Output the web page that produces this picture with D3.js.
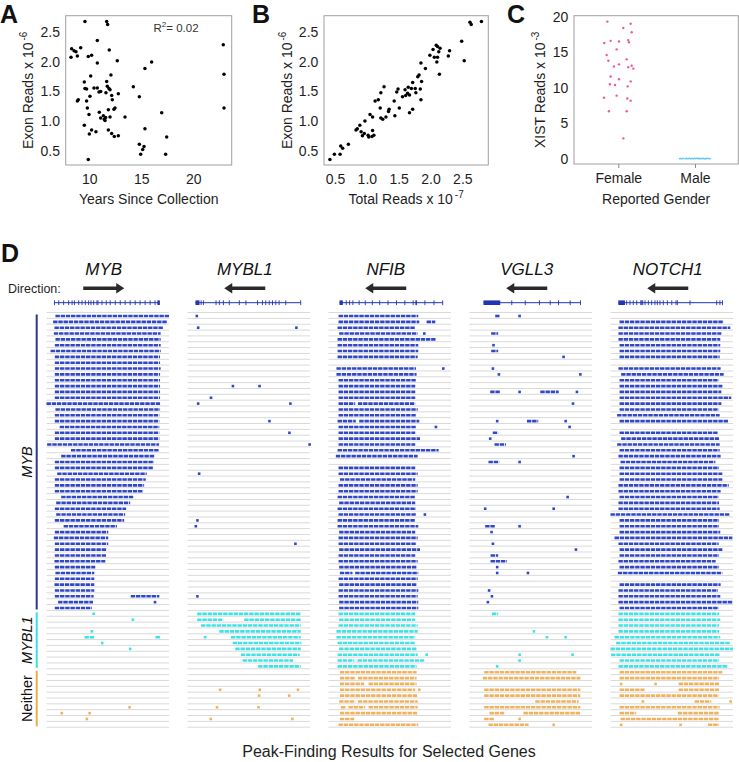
<!DOCTYPE html>
<html><head><meta charset="utf-8">
<script src="https://cdn.jsdelivr.net/npm/d3@7"></script>
<style>
body{margin:0;background:#fff;overflow:hidden}
svg{display:block}
</style>
</head><body>
<svg id="fig" width="739" height="762"></svg>
<script>
// ================= DATA =================
// Panel A: years since collection vs exon reads (x 10^-6)
const yearsA = [9.58,11.67,11.76,8.30,8.53,8.72,9.17,8.24,8.85,9.90,10.22,10.77,11.92,12.69,10.77,15.99,15.35,22.88,22.95,22.95,10.13,12.08,9.52,11.67,9.58,9.74,10.45,10.77,11.73,11.89,10.06,10.93,11.09,11.99,11.60,12.15,12.79,14.23,9.74,8.85,8.94,12.21,14.81,9.81,10.96,11.83,12.37,12.47,9.97,11.35,11.57,11.44,11.09,11.51,11.99,13.43,16.96,9.52,10.22,10.64,10.00,11.83,12.15,12.40,12.79,15.35,17.44,14.81,15.26,15.13,14.94,17.34,9.90];
const exonA = [2.68,2.68,2.63,2.22,2.19,2.17,2.24,2.08,2.10,2.09,2.11,2.36,2.20,2.02,1.98,2.00,1.89,2.29,1.79,1.22,1.76,1.78,1.66,1.67,1.55,1.54,1.56,1.56,1.59,1.55,1.42,1.49,1.50,1.53,1.48,1.43,1.46,1.58,1.34,1.34,1.36,1.36,1.41,1.22,1.15,1.19,1.20,1.22,1.11,1.09,1.06,1.03,1.05,1.01,1.07,1.07,1.14,0.93,0.85,0.82,0.78,0.85,0.79,0.74,0.75,0.87,0.73,0.61,0.57,0.52,0.44,0.44,0.35];
const aXTicks = [10,15,20];
const aYTicks = [0.5,1.0,1.5,2.0,2.5];
const aR2 = "0.02";

// Panel B: total reads (x 10^-7) vs exon reads (x 10^-6)
const totalB = [0.42,0.49,0.58,0.59,0.62,0.71,0.83,0.85,0.89,0.97,0.91,0.96,0.93,1.02,1.03,1.08,1.09,1.11,1.05,1.09,1.13,1.18,1.21,1.22,1.25,1.22,1.27,1.30,1.34,1.35,1.43,1.44,1.47,1.49,1.51,1.56,1.60,1.61,1.64,1.65,1.67,1.67,1.70,1.72,1.72,1.76,1.77,1.80,1.82,1.84,1.85,1.85,1.86,1.92,1.99,2.04,2.06,2.09,2.10,2.11,2.11,2.13,2.14,2.15,2.28,2.30,2.49,2.53,2.62,2.64,2.80];
const exonB = [0.35,0.44,0.44,0.58,0.54,0.61,0.85,0.87,0.93,1.00,0.82,0.79,0.75,0.76,0.73,0.74,0.84,0.76,1.11,1.07,1.34,1.36,1.22,1.05,1.03,1.48,1.58,1.07,1.16,1.20,1.34,1.09,1.49,1.54,1.22,1.41,1.53,1.43,1.47,1.57,1.44,1.14,1.55,1.20,1.65,1.55,1.48,1.75,1.78,1.54,1.98,1.36,1.67,1.89,2.11,2.21,2.08,2.28,2.00,2.26,2.08,2.17,1.79,2.23,2.10,2.19,2.35,2.02,2.67,2.63,2.68];
const bXTicks = [0.5,1.0,1.5,2.0,2.5];
const bYTicks = [0.5,1.0,1.5,2.0,2.5];

// Panel C: XIST reads (x 10^-3) by reported gender
const genderCats = ["Female","Male"];
const femaleXist = [19.3,19.0,18.4,17.8,16.6,16.5,16.7,16.4,16.3,15.4,14.6,13.8,14.0,13.3,13.0,12.9,13.1,12.7,11.6,11.2,10.9,10.5,10.4,10.2,8.6,8.9,8.5,8.2,6.7,6.7,2.9];
const femaleJitter = [-0.143,0.161,0.065,0.174,-0.1,0.009,0.13,0.139,-0.183,-0.022,-0.152,-0.13,0.109,0.009,-0.057,0.13,0.174,0.196,-0.1,0.009,0.161,-0.109,-0.043,0.122,-0.187,-0.022,0.117,0.161,-0.122,0.109,0.065];
const maleXist = [0.05,0.08,0.03,0.1,0.06,0.02,0.07,0.09,0.04,0.06,0.11,0.03,0.05,0.08,0.02,0.06,0.1,0.04,0.07,0.05,0.09,0.03,0.06,0.08,0.04,0.11,0.05,0.02,0.07,0.09,0.06,0.04,0.08,0.05,0.03,0.07,0.1,0.06,0.04,0.08];
const maleJitter = [-0.2,-0.19,-0.17,-0.16,-0.15,-0.13,-0.12,-0.11,-0.1,-0.08,-0.07,-0.06,-0.05,-0.03,-0.02,-0.01,0,0.01,0.03,0.04,0.05,0.06,0.08,0.09,0.1,0.11,0.13,0.14,0.15,0.16,0.18,0.19,0.2,-0.18,-0.09,-0.04,0.02,0.07,0.12,0.17];
const cYTicks = [0,5,10,15,20];

// Panel D: peak-finding results
const genes = ["MYB","MYBL1","NFIB","VGLL3","NOTCH1"];
const geneDirection = [1,-1,-1,-1,-1];
const groupNames = ["MYB","MYBL1","Neither"];
const groupSizes = [51,10,10];
// gene models (positions in % of window)
const modelRange = [[6.5,92],[6.5,92.4],[9,93.2],[11.4,90.6],[6.4,91.4]];
const modelBlocks = [[[90.5,92]],[[6.5,9.8]],[[9,11.7]],[[11.4,25.1]],[[6.4,11.8]]];
const modelTicks = [
  [6.5,10,14,18.1,20.9,22.8,26.3,29,31.7,34.4,36.3,38.5,41.2,42,45.3,48.8,52,56.1,60.2,64.2,68.3,72.4,76.4,80.5,84.6,88.6],
  [11.1,13,23.3,26,29.3,34.1,42.3,47.7,57.2,61.2,63.9,66.7,69.4,72.1,74.8,80.2,92.4],
  [14.5,17.2,19.9,25,30,35.8,41.8,48.6,55.5,62.3,69.1,71.3,71.9,78.7,86.1,93.2],
  [34.5,45.5,57.1,65.9,72.7,82.2,90.6],
  [13.2,15.9,18.6,21.4,24.7,25.5,26.3,28.2,30.9,33.6,36.3,38.2,40.4,43.1,46.4,50,53.5,54.6,64.9,86.7,89.3,91.4]
];
// peaks per sample row: [row, "start-end start-end single"] in % of window
const peaksMYB = [[0,"7.3-100"],[1,"5.4-98.4"],[2,"6.5-95.4"],[3,"6-93.2"],[4,"7.3-93.2"],[5,"6.8-93.2"],[6,"3.3-93.2"],[7,"6.8-92.7"],[8,"6.8-92.7"],[9,"6.8-93.2"],[10,"6.8-92.7"],[11,"6.8-92.7"],[12,"6.8-92.7"],[13,"6.8-92.7"],[14,"6.8-92.7"],[15,"0-92.7"],[16,"7.3-92.7"],[17,"6.8-92.1"],[18,"6.8-92.1"],[19,"10.8-92.1"],[20,"6.8-92.1"],[21,"6.8-92.1"],[22,"0.5-91.9"],[23,"20-91.9"],[24,"12-88.6"],[25,"6.8-87.8"],[26,"6.8-87.5"],[27,"8.7-81.8"],[28,"6.8-81"],[29,"6.8-79.7"],[30,"6.8-79"],[31,"12-71"],[32,"7.9-68.3"],[33,"6.8-65"],[34,"7.9-64.2"],[35,"6.8-63.4"],[36,"14-57.5"],[37,"6.8-50.4"],[38,"6-50.4"],[39,"6.8-50.4"],[40,"6.8-49.3"],[41,"6.8-48.8"],[42,"6.5-48"],[43,"6.8-39.8"],[44,"7.3-39"],[45,"6.8-39"],[46,"6.5-39"],[47,"6.8-39"],[48,"6.8-38.5 68.8-92.1"],[49,"9.5-38 88.6"],[50,"6.8-37.1"],[51,"38.5"],[52,"70.5"],[54,"37"],[55,"31-39 89-93"],[56,"45.5"],[57,"68.3"],[67,"67.8"],[68,"12.5 35.2"],[69,"33"]];
const peaksMYBL1 = [[0,"7.6"],[2,"8.7 88.9"],[12,"37.1 58.8"],[14,"19.2"],[15,"8.7 84"],[18,"66.9"],[20,"83.2"],[22,"99.7"],[27,"9.5"],[35,"8.1"],[36,"6.8"],[39,"88.1"],[48,"8.1"],[51,"7.9-92.4"],[52,"7.9-29.3 46.3-92.4"],[53,"11.1-92.4"],[54,"26-92.4"],[55,"14.4 35.5-92.4"],[56,"36.9-93"],[57,"39-92.4"],[58,"43.6-91.6"],[59,"45-86.2"],[60,"57.7-92.4"],[64,"26.6 59 90.2"],[65,"58.5 83"],[67,"24.1 58"],[69,"19 85.6"]];
const peaksNFIB = [[0,"8.2-73.3"],[1,"8.2-74.1 80.1-87.2"],[2,"7.4-70.8"],[3,"8.7-72.8 78.2"],[4,"7.4-87.7"],[5,"7.4-73.3"],[6,"7.4-73.3"],[7,"7.4-72.8"],[9,"6.5-71.4 93.7"],[10,"6.5-71.9"],[11,"8.2-71.4"],[12,"8.2-70.8"],[13,"8.2-70.8"],[14,"8.2-70.8"],[15,"8.2-21.8 24-70.8"],[16,"8.2-72.8"],[17,"8.2-71.9"],[18,"7.4-22.3 25.1-74.1"],[19,"8.2-71.4 87.7"],[20,"8.2-70.8"],[21,"8.2-74.7"],[22,"8.2-70.8"],[23,"7.4-89.9"],[24,"6-72.8"],[26,"8.2-70.8"],[27,"8.2-72.8"],[28,"9.3-70.8"],[29,"8.2-72.8"],[30,"8.2-72.8"],[31,"7.4-70.8"],[32,"8.7-70.8"],[33,"7.4-71.4"],[34,"8.2-71.9 78.7"],[35,"7.4-70.8"],[36,"7.4-73.3"],[37,"8.7-70.8"],[38,"8.2-72.8"],[39,"8.2-71.9"],[40,"8.7-74.7"],[41,"8.2-70.8"],[42,"8.2-72.8"],[43,"8.7-71.9"],[44,"9.3-19.6 21.8-73.3"],[45,"8.2-72.8"],[46,"8.7-71.9"],[47,"8.2-73.3"],[48,"8.2-72.8"],[49,"8.7-73.3"],[50,"8.7-73.3"],[51,"8.2-70.8"],[52,"8.7-70.8"],[53,"8.2-72.8"],[54,"6.5-72.8"],[55,"6.5-70.8"],[56,"7.4-70.8"],[57,"8.7-71.9"],[58,"7.4-72.8 80.1"],[59,"7.4-21 23.7-78.2"],[60,"7.4-71.9"],[61,"9.3-71.9"],[62,"9.3-21.8 24-71.9"],[63,"9.3-29.2 32.7-71.9"],[64,"9.3-70.8 74.1"],[65,"9.3-72.8"],[66,"8.7-21.8 24-72.8"],[67,"10.1-14.2 16.3-30 32.7-72.8"],[68,"9.3-72.8"],[69,"9.3-21"],[70,"8.2-73.3"]];
const peaksVGLL3 = [[0,"21-24.5 40.9"],[3,"17.7-23.4"],[5,"19.6"],[6,"17.7-23.4"],[7,"76.8"],[9,"19.1"],[10,"24 90.5"],[13,"16.9-25 40.9 57.8-72.8 87.7"],[15,"84.5"],[18,"22.6 46.9-56.1 78.5"],[19,"81.7"],[20,"19-23.4"],[21,"16.9"],[22,"20.4-29.7"],[24,"85"],[25,"15.5-24.3 40.9"],[31,"80.1"],[33,"12.8 68.7"],[36,"12.8-21 40.9"],[37,"18"],[39,"19.1"],[40,"86.9"],[41,"17.2-23.4"],[42,"17.2-30.5"],[43,"22.6"],[44,"22.6 47.7"],[47,"16"],[48,"18.3"],[49,"15"],[51,"18.3-23.4"],[54,"52.6"],[55,"63.2 78.5"],[58,"40.9 84.2"],[59,"40.9"],[60,"22.6"],[61,"12-87.2"],[62,"10.9-90.5"],[64,"12-90.5"],[65,"12-90.5"],[66,"53.7-89.1"],[67,"12-90.5"],[68,"16.3-28.3 44.1-90.5"],[69,"12-20.4 40.9"],[70,"15.5-48.2 68.7"]];
const peaksNOTCH1 = [[1,"7.4-92.4"],[2,"6.5-97.8"],[3,"6.5-90.5"],[4,"6.5-89.6"],[5,"7.4-89.6"],[6,"7.4-89.6"],[7,"7.4-89.1"],[9,"6.5-89.9"],[10,"8.7-92.4"],[11,"7.4-88.3"],[12,"7.4-91.3"],[13,"7.4-90.5"],[14,"7.4-98.6"],[15,"7.4-90.5"],[16,"7.4-88.3"],[17,"5.4-89.1"],[18,"7.4-96.5"],[20,"7.4-87.7"],[21,"8.7-88.6"],[22,"5.4-89.1"],[23,"7.4-89.1"],[24,"6.5-89.9"],[25,"8.2-85.6"],[26,"7.4-88.6"],[27,"7.4-91.3"],[28,"7.4-91.3"],[29,"6.5-96.5"],[30,"6.5-89.9"],[31,"7.4-88.3"],[32,"6.5-88.6"],[33,"6.5-89.1"],[34,"0-97.3"],[35,"7.4-88.6"],[36,"7.4-88.6"],[37,"7.4-89.6"],[38,"3.3-99.5"],[39,"6.5-88.3"],[40,"7.4-91.3"],[41,"7.4-88.6"],[42,"6.5-85.8"],[43,"7.4-88.6"],[44,"6-91.3"],[46,"7.4-89.9"],[47,"6.5-87.7"],[48,"6.5-89.6"],[49,"6.5-100"],[50,"7.4-88.3"],[51,"6.5-88.6"],[52,"6.5-89.6"],[53,"6.5-88.6"],[54,"6.5-88.6"],[55,"3.3-89.6"],[56,"4.6-97.3"],[57,"0-100"],[58,"0.5-89.6"],[59,"7.4-88.6"],[60,"6.5-95.9"],[61,"7.4-91.3"],[62,"7.4-88.6"],[63,"8.7 36.8 55.6-88.6"],[64,"7.4-27.8 55.6-88.6"],[65,"7.4-88.3"],[66,"26.4 68.7-82.3 98.1"],[67,"7.4-89.1"],[68,"7.4-21 55-88.6"],[69,"8.2-88.6"],[70,"8.7 57.2 79.6-88.6"]];
const peaksByGene = [peaksMYB, peaksMYBL1, peaksNFIB, peaksVGLL3, peaksNOTCH1];
const bottomTitle = "Peak-Finding Results for Selected Genes";

// ================= DRAWING =================
const FF = '"Liberation Sans", Arial, Helvetica, sans-serif';
const TXT = "#1e1e1e";
const svg = d3.select("#fig");

function panelLetter(ch, x, y) {
  svg.append("text").attr("x", x).attr("y", y).text(ch)
    .attr("font-family", FF).attr("font-weight", "bold").attr("font-size", 25).attr("fill", "#111");
}
function styleAxis(g, size) {
  g.select(".domain").remove();
  g.selectAll("text").attr("font-family", FF).attr("font-size", size).attr("fill", TXT);
  g.selectAll("line").attr("stroke", "#888");
}
function titleWithSup(g, main, sup, x, y, rotate) {
  const t = g.append("text").attr("text-anchor", "middle")
    .attr("font-family", FF).attr("font-size", 14).attr("fill", TXT)
    .attr("transform", `translate(${x},${y})` + (rotate ? " rotate(-90)" : ""));
  t.append("tspan").text(main);
  if (sup) t.append("tspan").attr("dx", 2).attr("dy", -6).attr("font-size", 10).text(sup);
}

function scatter(cfg) {
  const g = svg.append("g");
  const b = cfg.box;
  const x = d3.scaleLinear().domain(cfg.xDom).range([b.l, b.r]);
  const y = d3.scaleLinear().domain(cfg.yDom).range([b.b, b.t]);
  g.append("rect").attr("x", b.l).attr("y", b.t).attr("width", b.r - b.l).attr("height", b.b - b.t)
    .attr("fill", "none").attr("stroke", "#a0a0a0").attr("stroke-width", 1);
  const ya = g.append("g").attr("transform", `translate(${b.l},0)`)
    .call(d3.axisLeft(y).tickValues(cfg.yTicks).tickFormat(cfg.yFmt).tickSize(0).tickPadding(5.7));
  styleAxis(ya, 14);
  const xa = g.append("g").attr("transform", `translate(0,${b.b})`)
    .call(d3.axisBottom(x).tickValues(cfg.xTicks).tickFormat(cfg.xFmt).tickSize(cfg.xTickSize || 0).tickPadding(cfg.xPad));
  styleAxis(xa, 14);
  titleWithSup(g, cfg.yTitle, cfg.ySup, b.l - cfg.yTitleOff, (b.t + b.b) / 2, true);
  titleWithSup(g, cfg.xTitle, cfg.xSup, (b.l + b.r) / 2, 204, false);
  return {g, x, y};
}

// ---- Panel A ----
panelLetter("A", 0, 23);
const pA = scatter({
  box: {l: 65.7, r: 231.7, t: 15.7, b: 165},
  xDom: [7.73, 23.69], yDom: [0.258, 2.78],
  xTicks: aXTicks, yTicks: aYTicks, xFmt: d3.format("d"), yFmt: d3.format(".1f"), xPad: 9.4,
  yTitle: "Exon Reads x 10", ySup: "-6", yTitleOff: 33, xTitle: "Years Since Collection", xSup: null
});
pA.g.selectAll("circle.pt").data(yearsA).join("circle").attr("class", "pt")
  .attr("cx", d => pA.x(d)).attr("cy", (d, i) => pA.y(exonA[i])).attr("r", 1.75).attr("fill", "#000");
const r2 = pA.g.append("text").attr("x", 153.5).attr("y", 31.7)
  .attr("font-family", FF).attr("font-size", 11.5).attr("fill", "#333");
r2.append("tspan").text("R");
r2.append("tspan").attr("dy", -4.5).attr("font-size", 8).text("2");
r2.append("tspan").attr("dy", 4.5).text("= " + aR2);

// ---- Panel B ----
panelLetter("B", 252, 23);
const pB = scatter({
  box: {l: 324, r: 488.3, t: 15.7, b: 165},
  xDom: [0.327, 2.908], yDom: [0.258, 2.78],
  xTicks: bXTicks, yTicks: bYTicks, xFmt: d3.format(".1f"), yFmt: d3.format(".1f"), xPad: 9.4,
  yTitle: "Exon Reads x 10", ySup: "-6", yTitleOff: 32.3, xTitle: "Total Reads x 10", xSup: "-7"
});
pB.g.selectAll("circle.pt").data(totalB).join("circle").attr("class", "pt")
  .attr("cx", d => pB.x(d)).attr("cy", (d, i) => pB.y(exonB[i])).attr("r", 1.75).attr("fill", "#000");

// ---- Panel C ----
panelLetter("C", 507, 23);
const pC = scatter({
  box: {l: 574, r: 738.3, t: 15.7, b: 164},
  xDom: [0.422, 2.565], yDom: [-0.7, 20.13],
  xTicks: [1, 2], yTicks: cYTicks, xFmt: i => genderCats[i - 1], yFmt: d3.format("d"), xPad: 5, xTickSize: 4,
  yTitle: "XIST Reads x 10", ySup: "-3", yTitleOff: 29, xTitle: "Reported Gender", xSup: null
});
pC.g.selectAll("circle.f").data(femaleXist).join("circle").attr("class", "f")
  .attr("cx", (d, i) => pC.x(1 + femaleJitter[i])).attr("cy", d => pC.y(d)).attr("r", 1.2).attr("fill", "#ea5a9c");
pC.g.selectAll("circle.m").data(maleXist).join("circle").attr("class", "m")
  .attr("cx", (d, i) => pC.x(2 + maleJitter[i])).attr("cy", d => pC.y(d)).attr("r", 0.8).attr("fill", "#5cc6ef");

// ---- Panel D ----
panelLetter("D", 1, 262);
const nRows = d3.sum(groupSizes);
const colW = 122.5;
const colX = d3.scaleLinear().domain([0, genes.length - 1]).range([46.5, 610.5]);
const rowY = d3.scaleLinear().domain([0, nRows - 1]).range([316, 316 + (nRows - 1) * 5.84]);
const groupColor = ["#3047c6", "#3ee3e6", "#f2b25a"];
const groupBarColor = ["#2b3690", "#3adfe0", "#f0aa4c"];
const groupStart = groupSizes.map((s, i) => d3.sum(groupSizes.slice(0, i)));
const rowGroup = r => groupStart.findLastIndex(s => r >= s);
const modelY = 302.7, arrowY = 288.3;

svg.append("text").attr("x", 8).attr("y", 293.3).text("Direction:")
  .attr("font-family", FF).attr("font-size", 12.5).attr("fill", TXT);

function parseSegs(s) {
  return s.trim() === "" ? [] : s.trim().split(/\s+/).map(t => {
    const p = t.split("-").map(Number);
    return p.length === 1 ? [p[0], p[0]] : p;
  });
}

genes.forEach((gene, gi) => {
  const x0 = colX(gi);
  const xs = d3.scaleLinear().domain([0, 100]).range([x0, x0 + colW]);
  const cx = x0 + colW / 2 - 4;
  const g = svg.append("g");
  // gene name
  g.append("text").attr("x", cx).attr("y", 274.5).attr("text-anchor", "middle")
    .attr("font-family", FF).attr("font-style", "italic").attr("font-size", 17).attr("fill", "#111").text(gene);
  // direction arrow
  const dir = geneDirection[gi], half = 20.5;
  const tail = cx - dir * half, tip = cx + dir * half;
  g.append("line").attr("x1", tail).attr("x2", tip - dir * 6).attr("y1", arrowY).attr("y2", arrowY)
    .attr("stroke", "#2a2a2a").attr("stroke-width", 3.4);
  g.append("path").attr("d", `M${tip},${arrowY} L${tip - dir * 8},${arrowY - 5.3} L${tip - dir * 8},${arrowY + 5.3} Z`)
    .attr("fill", "#2a2a2a");
  // gene model
  const mc = "#2336b0";
  g.append("line").attr("x1", xs(modelRange[gi][0])).attr("x2", xs(modelRange[gi][1]))
    .attr("y1", modelY).attr("y2", modelY).attr("stroke", mc).attr("stroke-width", 1);
  g.selectAll("line.tk").data(modelTicks[gi]).join("line").attr("class", "tk")
    .attr("x1", d => xs(d)).attr("x2", d => xs(d)).attr("y1", modelY - 2.4).attr("y2", modelY + 2.4)
    .attr("stroke", mc).attr("stroke-width", 0.9);
  g.selectAll("rect.bk").data(modelBlocks[gi]).join("rect").attr("class", "bk")
    .attr("x", d => xs(d[0])).attr("width", d => Math.max(2.5, xs(d[1]) - xs(d[0])))
    .attr("y", modelY - 2.3).attr("height", 4.6).attr("fill", mc);
  // grey track lines
  g.selectAll("line.gr").data(d3.range(-1, nRows)).join("line").attr("class", "gr")
    .attr("x1", x0).attr("x2", x0 + colW).attr("y1", d => rowY(d) + 2.4).attr("y2", d => rowY(d) + 2.4)
    .attr("stroke", "#d9d9d9").attr("stroke-width", 1);
  // peaks
  const segs = [];
  peaksByGene[gi].forEach(([r, s]) => parseSegs(s).forEach(([a, b]) => segs.push({r, a, b})));
  g.selectAll("line.pk").data(segs).join("line").attr("class", "pk")
    .each(function (d) {
      let x1 = xs(d.a), x2 = xs(d.b);
      const isDot = x2 - x1 < 2.6;
      if (isDot) { const m = (x1 + x2) / 2; x1 = m - 1.3; x2 = m + 1.3; }
      d3.select(this).attr("x1", x1).attr("x2", x2).attr("y1", rowY(d.r)).attr("y2", rowY(d.r))
        .attr("stroke", groupColor[rowGroup(d.r)]).attr("stroke-width", 2.6)
        .attr("stroke-dasharray", isDot ? null : "4.4,0.8");
    });
});

// group bars + labels on the left
groupNames.forEach((name, i) => {
  const r0 = groupStart[i], r1 = groupStart[i] + groupSizes[i] - 1;
  const yTop = rowY(r0) - 1.5, yBot = rowY(r1) + 1.5;
  svg.append("line").attr("x1", 36.7).attr("x2", 36.7).attr("y1", yTop).attr("y2", yBot)
    .attr("stroke", groupBarColor[i]).attr("stroke-width", 2);
  svg.append("text").attr("transform", `translate(31.5,${(yTop + yBot) / 2}) rotate(-90)`)
    .attr("text-anchor", "middle").attr("font-family", FF).attr("font-size", 14.5)
    .attr("font-style", name === "Neither" ? "normal" : "italic").attr("fill", "#111").text(name);
});

svg.append("text").attr("x", 389).attr("y", 757).attr("text-anchor", "middle")
  .attr("font-family", FF).attr("font-size", 16).attr("fill", TXT).text(bottomTitle);
</script>
</body></html>
